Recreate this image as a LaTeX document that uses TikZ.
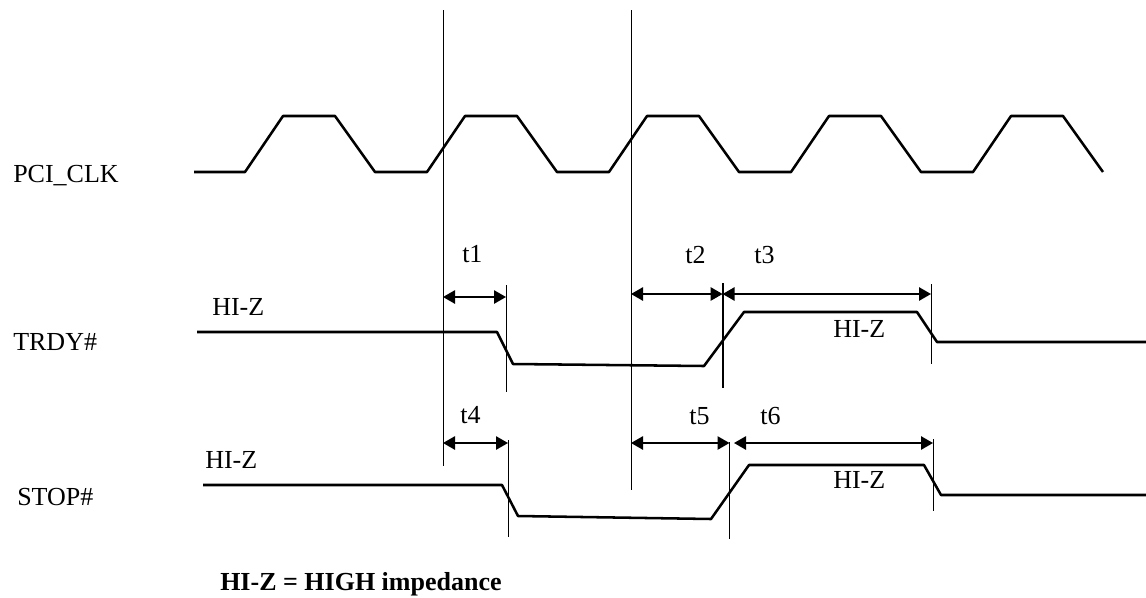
\documentclass[tikz,border=0pt]{standalone}
\usepackage{fontspec}
\setmainfont{Liberation Serif}
\usetikzlibrary{arrows.meta}

\tikzset{
  wave/.style={line width=1.9pt},
  guide/.style={line width=.7pt},
  thickguide/.style={line width=1.6pt},
  dimarrow/.style={{Triangle[length=9pt,width=10pt]}-{Triangle[length=9pt,width=10pt]},
    line width=1.3pt},
  lbl/.style={font=\fontsize{19.5}{23}\selectfont,inner sep=0pt,anchor=base west},
}

\begin{document}
\begin{tikzpicture}[x=0.75pt,y=-0.75pt,line join=round]
    \useasboundingbox (0,0) rectangle (1146,597);

    % Signal names on the left.
    \node[lbl] (clkname) at (13,182) {PCI\_CLK};
    \node[lbl] (trdyname) at (13,350) {TRDY\#};
    \node[lbl] (stopname) at (17,505) {STOP\#};

    % The clock, five periods.
    \draw[wave] (194,172)
      \foreach \p in {245,427,609,791,973} {
        -- (\p,172) -- (\p+38,116) -- (\p+90,116) -- (\p+130,172)
      };

    % The two reference edges.
    \coordinate (edgea) at (443,10);
    \coordinate (edgeb) at (631,10);
    \draw[guide] (edgea) -- (443,466);
    \draw[guide] (edgeb) -- (631,490);

    % TRDY#.
    \draw[wave] (197,332) -- (497,332) -- (513,364) -- (704,366)
      -- (744,312) -- (917,312) -- (937,342) -- (1146,342);
    \draw[guide] (506,285) -- (506,392);
    \draw[thickguide] (722.6,283) -- (722.6,388);
    \draw[guide] (931,284) -- (931,364);

    \coordinate (tonea) at (443,297);
    \coordinate (toneb) at (506,297);
    \coordinate (ttwoa) at (631,294);
    \coordinate (ttwob) at (722.6,294);
    \coordinate (tthreeb) at (931,294);
    \draw[dimarrow] (tonea) -- (toneb);
    \draw[dimarrow] (ttwoa) -- (ttwob);
    \draw[dimarrow] (ttwob) -- (tthreeb);

    \node[lbl] (tone) at (462,262) {t1};
    \node[lbl] (ttwo) at (685,263) {t2};
    \node[lbl] (tthree) at (754,263) {t3};
    \node[lbl] (hiza) at (212,315) {HI-Z};
    \node[lbl] (hizb) at (833,337) {HI-Z};

    % STOP#.
    \draw[wave] (203,485) -- (502,485) -- (518,516) -- (711,519)
      -- (749,465) -- (924,465) -- (941,495) -- (1146,495);
    \draw[guide] (508,440) -- (508,537);
    \draw[guide] (729.5,442) -- (729.5,539);
    \draw[guide] (933,439) -- (933,511);

    \coordinate (tfoura) at (443,443);
    \coordinate (tfourb) at (508,443);
    \coordinate (tfivea) at (631,443);
    \coordinate (tfiveb) at (729.5,443);
    \coordinate (tsixa) at (734,443);
    \coordinate (tsixb) at (933,443);
    \draw[dimarrow] (tfoura) -- (tfourb);
    \draw[dimarrow] (tfivea) -- (tfiveb);
    \draw[dimarrow] (tsixa) -- (tsixb);

    \node[lbl] (tfour) at (460,423) {t4};
    \node[lbl] (tfive) at (689,424) {t5};
    \node[lbl] (tsix) at (760,424) {t6};
    \node[lbl] (hizc) at (205,468) {HI-Z};
    \node[lbl] (hizd) at (833,488) {HI-Z};

    % Legend.
    \node[lbl,font=\fontsize{19.5}{23}\selectfont\bfseries] (legend) at (220,590)
      {HI-Z = HIGH impedance};
\end{tikzpicture}
\end{document}
